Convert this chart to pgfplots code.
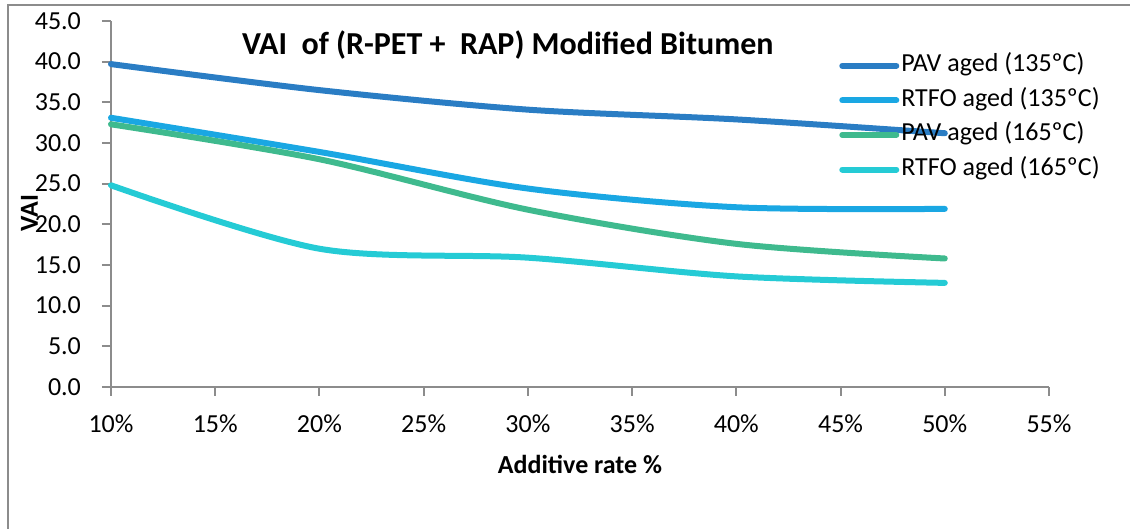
\documentclass[border=0pt]{standalone}
\usepackage{fontspec}
\setmainfont{Carlito}
\usepackage{pgfplots}
\pgfplotsset{compat=1.18}
\definecolor{pav135}{HTML}{2A7DC4}
\definecolor{rtfo135}{HTML}{1AA7E3}
\definecolor{pav165}{HTML}{3FBA8E}
\definecolor{rtfo165}{HTML}{25CBD5}
\definecolor{axgray}{HTML}{8C8C8C}
\begin{document}
\begin{tikzpicture}
\path[use as bounding box] (-55.5pt,-71pt) rectangle (509.5pt,193.5pt);
\draw[axgray, line width=1.2pt] (-51.5pt,-80pt) -- (-51.5pt,191pt) -- (520pt,191pt);
\begin{axis}[
  scale only axis, width=469pt, height=183pt,
  xmin=10, xmax=55, ymin=0, ymax=45,
  axis lines*=left,
  axis line style={axgray, line width=1pt},
  xtick={10,15,...,55}, ytick={0,5,...,45},
  tick align=outside, major tick length=4.5pt,
  xtick style={axgray, line width=1pt},
  ytick style={axgray, line width=1pt},
  /pgf/number format/assume math mode=true,
  tick label style={font=\fontsize{13}{15}\selectfont},
  yticklabel style={xshift=-7pt, /pgf/number format/.cd, fixed, fixed zerofill, precision=1},
  xticklabel style={yshift=-6pt},
  xticklabel={\pgfmathprintnumber{\tick}\%},
  xlabel={\textbf{Additive rate \%}},
  xlabel style={font=\fontsize{13}{15}\selectfont, at={(axis description cs:0.5,-0.213)}, anchor=center},
  ylabel={\textbf{VAI}},
  ylabel style={font=\fontsize{13}{15}\selectfont, at={(axis description cs:-0.087,0.475)}, anchor=center},
  legend cell align=left,
  legend image code/.code={\draw[#1, line cap=round] (0pt,0pt) -- (27pt,0pt);},
  legend style={at={(axis description cs:0.776,0.917)}, anchor=north west, draw=none, fill=none,
    font=\fontsize{13}{15}\selectfont, row sep=3.3pt, inner sep=0pt,
    nodes={inner sep=1pt, text height=9pt, text depth=3pt}},
  every axis plot/.append style={line width=3pt, line cap=round, line join=round, smooth, tension=0.5},
  clip=false,
]
\addplot[pav135] coordinates {(10,39.7) (20,36.5) (30,34.1) (40,32.9) (50,31.2)};
\addlegendentry{PAV aged (135ºC)}
\addplot[rtfo135] coordinates {(10,33.1) (20,28.9) (30,24.4) (40,22.1) (50,21.9)};
\addlegendentry{RTFO aged (135ºC)}
\addplot[pav165] coordinates {(10,32.3) (20,28.0) (30,21.8) (40,17.6) (50,15.8)};
\addlegendentry{PAV aged (165ºC)}
\addplot[rtfo165] coordinates {(10,24.8) (20,17.0) (30,15.9) (40,13.6) (50,12.8)};
\addlegendentry{RTFO aged (165ºC)}
\node[font=\bfseries\fontsize{16}{19}\selectfont] at (axis description cs:0.423,0.934) {VAI\ \ of (R-PET +\ \ RAP) Modified Bitumen};
\end{axis}
\end{tikzpicture}
\end{document}
